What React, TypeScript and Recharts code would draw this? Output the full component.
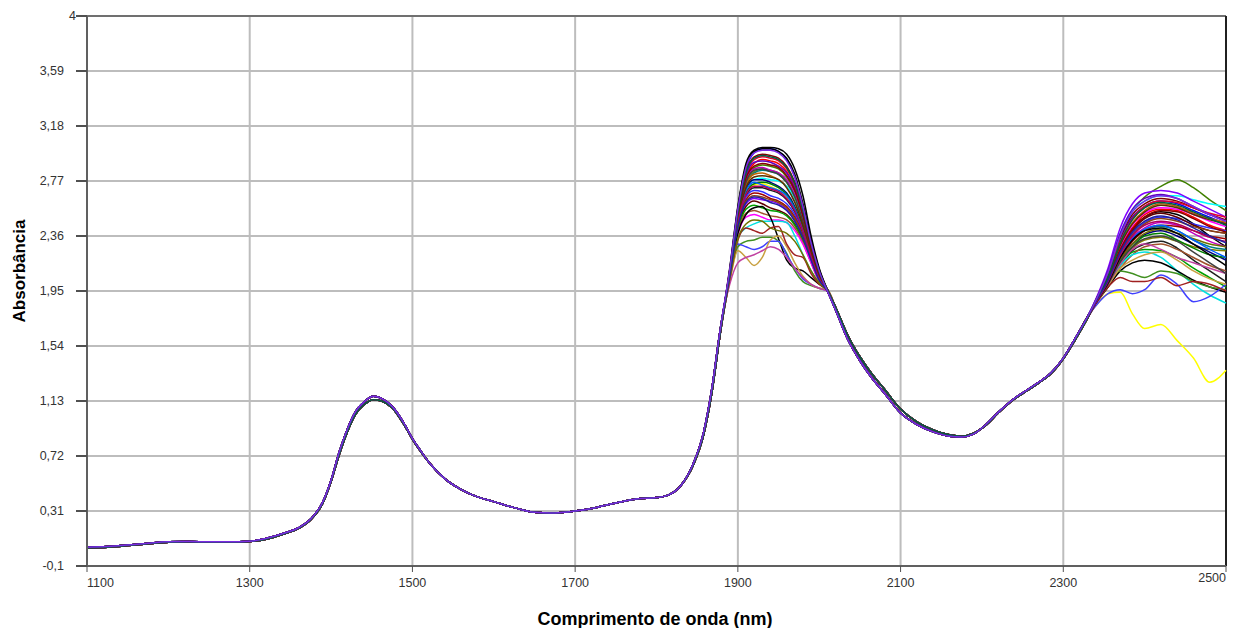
import { LineChart, Line, XAxis, YAxis, CartesianGrid, ReferenceLine } from "recharts";

// wavelength grids (nm)
const leftNm = [1100, 1125, 1150, 1175, 1200, 1225, 1250, 1275, 1300, 1320, 1340, 1360, 1375, 1390, 1400, 1410, 1420, 1430, 1440, 1452, 1462, 1475, 1490, 1500, 1510, 1522, 1540, 1560, 1580, 1600, 1625, 1650, 1670, 1700, 1725, 1750, 1775, 1800, 1815, 1830, 1845, 1858, 1868, 1878];
const peakNm = [1890, 1900, 1910, 1920, 1930, 1940, 1950, 1960, 1970, 1980, 1990, 2000];
const midNm = [2010, 2020, 2035, 2050, 2065, 2080, 2100, 2120, 2140, 2160, 2175, 2190, 2205, 2220, 2240, 2255, 2270, 2285, 2300, 2315, 2330];
const tailNm = [2340, 2355, 2370, 2385, 2400, 2420, 2440, 2460, 2480, 2500];

// shared parts of the spectra (two slightly different bundles)
const baseLeftA = [0.04, 0.045, 0.056, 0.07, 0.08, 0.082, 0.08, 0.08, 0.085, 0.105, 0.14, 0.185, 0.25, 0.38, 0.54, 0.75, 0.92, 1.05, 1.12, 1.165, 1.15, 1.09, 0.96, 0.85, 0.76, 0.66, 0.55, 0.47, 0.415, 0.38, 0.335, 0.3, 0.295, 0.31, 0.335, 0.37, 0.4, 0.41, 0.43, 0.5, 0.66, 0.9, 1.22, 1.65];
const baseLeftB = [0.035, 0.04, 0.052, 0.066, 0.077, 0.08, 0.078, 0.079, 0.083, 0.1, 0.135, 0.18, 0.245, 0.37, 0.53, 0.73, 0.9, 1.03, 1.1, 1.14, 1.13, 1.08, 0.95, 0.845, 0.755, 0.66, 0.55, 0.47, 0.415, 0.38, 0.335, 0.3, 0.295, 0.31, 0.335, 0.37, 0.4, 0.41, 0.43, 0.5, 0.65, 0.88, 1.19, 1.62];
const baseMidA = [1.95, 1.81, 1.59, 1.43, 1.3, 1.19, 1.04, 0.955, 0.9, 0.868, 0.862, 0.885, 0.955, 1.045, 1.15, 1.21, 1.27, 1.34, 1.45, 1.6, 1.76];
const baseMidB = [1.96, 1.83, 1.62, 1.46, 1.33, 1.22, 1.07, 0.975, 0.915, 0.878, 0.868, 0.89, 0.95, 1.04, 1.145, 1.205, 1.265, 1.335, 1.445, 1.59, 1.75];

const colors = ["#ffff00", "#000000", "#0000ff", "#800000", "#408000", "#ff0000", "#808000", "#c000c0", "#008080", "#c06000", "#00ffff", "#000080", "#008000", "#202020", "#3030ff", "#a00000", "#8000ff", "#600000", "#00a000", "#a0522d", "#ff00ff", "#00e0e0", "#000000", "#409020", "#4040ff", "#c8a040", "#c040a0", "#a02020", "#707000", "#e00030", "#6000c0", "#0060ff", "#404040", "#8b4513", "#8b0000", "#000000", "#5a3000", "#b00060", "#2020a0", "#006040", "#7a2be2"];

// per-sample water band around 1930 nm
const peakValues = [
  [2.07, 2.46, 2.68, 2.74, 2.75, 2.73, 2.7, 2.65, 2.55, 2.4, 2.21, 2.05],
  [2.12, 2.58, 2.9, 3.0, 3.02, 3.02, 3.01, 2.97, 2.86, 2.66, 2.36, 2.12],
  [2.1, 2.55, 2.86, 2.98, 3.01, 3.01, 2.99, 2.93, 2.8, 2.58, 2.32, 2.1],
  [2.1, 2.54, 2.84, 2.95, 2.97, 2.96, 2.94, 2.88, 2.76, 2.56, 2.3, 2.09],
  [2.08, 2.5, 2.77, 2.87, 2.89, 2.88, 2.86, 2.8, 2.69, 2.5, 2.27, 2.07],
  [2.09, 2.52, 2.8, 2.9, 2.93, 2.92, 2.9, 2.84, 2.72, 2.52, 2.28, 2.08],
  [2.08, 2.49, 2.75, 2.84, 2.86, 2.85, 2.83, 2.77, 2.66, 2.48, 2.26, 2.06],
  [2.09, 2.51, 2.78, 2.86, 2.87, 2.85, 2.83, 2.78, 2.67, 2.49, 2.26, 2.07],
  [2.08, 2.49, 2.74, 2.83, 2.85, 2.84, 2.82, 2.76, 2.65, 2.47, 2.25, 2.06],
  [2.08, 2.49, 2.74, 2.82, 2.83, 2.81, 2.78, 2.73, 2.62, 2.45, 2.24, 2.06],
  [2.07, 2.47, 2.7, 2.78, 2.79, 2.78, 2.77, 2.73, 2.64, 2.48, 2.27, 2.07],
  [2.08, 2.48, 2.71, 2.78, 2.78, 2.76, 2.73, 2.68, 2.58, 2.42, 2.22, 2.05],
  [2.07, 2.46, 2.68, 2.75, 2.76, 2.75, 2.72, 2.67, 2.57, 2.41, 2.22, 2.05],
  [2.07, 2.45, 2.66, 2.72, 2.72, 2.7, 2.68, 2.63, 2.54, 2.39, 2.21, 2.04],
  [2.07, 2.45, 2.65, 2.7, 2.69, 2.66, 2.64, 2.6, 2.52, 2.38, 2.2, 2.04],
  [2.06, 2.43, 2.63, 2.68, 2.67, 2.64, 2.62, 2.58, 2.5, 2.37, 2.19, 2.04],
  [2.06, 2.42, 2.6, 2.64, 2.63, 2.62, 2.6, 2.56, 2.48, 2.35, 2.18, 2.03],
  [2.06, 2.41, 2.58, 2.62, 2.6, 2.57, 2.55, 2.52, 2.45, 2.33, 2.17, 2.03],
  [2.05, 2.4, 2.56, 2.59, 2.57, 2.55, 2.54, 2.51, 2.44, 2.32, 2.17, 2.03],
  [2.05, 2.38, 2.53, 2.55, 2.53, 2.51, 2.5, 2.48, 2.42, 2.31, 2.16, 2.02],
  [2.05, 2.37, 2.5, 2.52, 2.5, 2.48, 2.48, 2.46, 2.4, 2.3, 2.16, 2.02],
  [2.04, 2.35, 2.42, 2.45, 2.47, 2.47, 2.47, 2.46, 2.36, 2.22, 2.1, 2.01],
  [2.05, 2.38, 2.52, 2.57, 2.58, 2.5, 2.34, 2.18, 2.12, 2.1, 2.05, 2.0],
  [2.03, 2.28, 2.32, 2.33, 2.35, 2.35, 2.32, 2.23, 2.1, 2.02, 1.99, 1.97],
  [2.03, 2.3, 2.28, 2.26, 2.28, 2.32, 2.32, 2.22, 2.12, 2.04, 2.0, 1.97],
  [2.02, 2.25, 2.2, 2.14, 2.2, 2.33, 2.36, 2.28, 2.16, 2.06, 2.0, 1.97],
  [2.0, 2.16, 2.2, 2.22, 2.25, 2.28, 2.26, 2.2, 2.12, 2.05, 2.0, 1.97],
  [2.04, 2.33, 2.42, 2.4, 2.38, 2.42, 2.43, 2.3, 2.22, 2.2, 2.08, 2.0],
  [2.04, 2.34, 2.45, 2.48, 2.47, 2.42, 2.4, 2.38, 2.32, 2.22, 2.1, 2.01],
  [2.1, 2.53, 2.82, 2.93, 2.95, 2.94, 2.92, 2.86, 2.74, 2.54, 2.29, 2.08],
  [2.09, 2.52, 2.81, 2.91, 2.92, 2.91, 2.88, 2.83, 2.71, 2.51, 2.28, 2.08],
  [2.07, 2.47, 2.7, 2.76, 2.74, 2.72, 2.7, 2.66, 2.56, 2.4, 2.21, 2.04],
  [2.08, 2.5, 2.76, 2.85, 2.86, 2.84, 2.82, 2.76, 2.65, 2.47, 2.25, 2.06],
  [2.06, 2.44, 2.62, 2.66, 2.65, 2.63, 2.61, 2.57, 2.49, 2.36, 2.19, 2.03],
  [2.09, 2.51, 2.79, 2.88, 2.9, 2.89, 2.87, 2.81, 2.7, 2.51, 2.27, 2.07],
  [2.11, 2.57, 2.88, 2.99, 3.01, 3.01, 2.99, 2.94, 2.82, 2.6, 2.33, 2.11],
  [2.08, 2.48, 2.72, 2.8, 2.81, 2.8, 2.78, 2.72, 2.61, 2.44, 2.23, 2.05],
  [2.07, 2.46, 2.67, 2.73, 2.73, 2.71, 2.69, 2.64, 2.55, 2.4, 2.21, 2.04],
  [2.06, 2.43, 2.61, 2.65, 2.64, 2.61, 2.59, 2.55, 2.47, 2.35, 2.18, 2.03],
  [2.09, 2.53, 2.83, 2.94, 2.96, 2.95, 2.93, 2.87, 2.75, 2.55, 2.3, 2.09],
  [2.11, 2.56, 2.87, 2.98, 3.0, 3.0, 2.98, 2.92, 2.8, 2.58, 2.31, 2.1],
];

// per-sample end of the spectrum (2340-2500 nm)
const tailValues = [
  [1.84, 1.93, 1.94, 1.78, 1.67, 1.7, 1.58, 1.45, 1.27, 1.36],
  [1.87, 2.05, 2.28, 2.42, 2.5, 2.54, 2.52, 2.45, 2.36, 2.28],
  [1.88, 2.08, 2.34, 2.5, 2.58, 2.62, 2.6, 2.55, 2.5, 2.45],
  [1.88, 2.08, 2.35, 2.52, 2.6, 2.64, 2.62, 2.57, 2.52, 2.48],
  [1.88, 2.08, 2.36, 2.55, 2.65, 2.73, 2.78, 2.72, 2.63, 2.55],
  [1.87, 2.05, 2.27, 2.42, 2.52, 2.56, 2.55, 2.5, 2.44, 2.4],
  [1.86, 2.0, 2.16, 2.27, 2.33, 2.35, 2.32, 2.28, 2.26, 2.25],
  [1.87, 2.03, 2.22, 2.35, 2.42, 2.46, 2.44, 2.38, 2.32, 2.28],
  [1.86, 2.02, 2.2, 2.33, 2.4, 2.43, 2.4, 2.33, 2.28, 2.26],
  [1.87, 2.06, 2.3, 2.46, 2.55, 2.6, 2.58, 2.53, 2.49, 2.46],
  [1.88, 2.09, 2.38, 2.55, 2.62, 2.66, 2.66, 2.63, 2.6, 2.58],
  [1.86, 2.01, 2.18, 2.3, 2.37, 2.4, 2.36, 2.3, 2.24, 2.18],
  [1.86, 2.0, 2.16, 2.28, 2.36, 2.38, 2.33, 2.27, 2.22, 2.2],
  [1.86, 1.99, 2.14, 2.25, 2.3, 2.32, 2.27, 2.18, 2.1, 2.02],
  [1.87, 2.04, 2.24, 2.38, 2.46, 2.5, 2.49, 2.45, 2.42, 2.4],
  [1.86, 2.01, 2.19, 2.32, 2.4, 2.44, 2.43, 2.4, 2.36, 2.34],
  [1.89, 2.12, 2.42, 2.6, 2.68, 2.7, 2.68, 2.62, 2.56, 2.5],
  [1.87, 2.04, 2.25, 2.4, 2.49, 2.53, 2.5, 2.44, 2.4, 2.38],
  [1.86, 2.0, 2.15, 2.24, 2.26, 2.25, 2.2, 2.12, 2.05, 1.98],
  [1.85, 1.98, 2.12, 2.22, 2.28, 2.3, 2.26, 2.2, 2.14, 2.1],
  [1.87, 2.05, 2.28, 2.44, 2.53, 2.57, 2.56, 2.52, 2.47, 2.43],
  [1.86, 2.0, 2.14, 2.22, 2.24, 2.2, 2.1, 2.0, 1.92, 1.86],
  [1.86, 1.98, 2.1, 2.16, 2.18, 2.16, 2.1, 2.03, 1.98, 1.94],
  [1.87, 2.02, 2.1, 2.08, 2.05, 2.1, 2.08, 2.02, 1.98, 1.96],
  [1.84, 1.93, 1.96, 1.93, 1.96, 2.07, 2.0, 1.87, 1.91, 2.0],
  [1.86, 1.99, 2.12, 2.18, 2.22, 2.24, 2.18, 2.1, 2.04, 2.0],
  [1.86, 2.0, 2.15, 2.26, 2.3, 2.26, 2.2, 2.16, 2.12, 2.08],
  [1.86, 1.98, 2.05, 2.02, 2.02, 2.05, 1.99, 2.02, 2.0, 1.95],
  [1.86, 2.01, 2.18, 2.3, 2.38, 2.41, 2.38, 2.34, 2.3, 2.28],
  [1.88, 2.07, 2.32, 2.49, 2.58, 2.62, 2.61, 2.57, 2.53, 2.5],
  [1.88, 2.1, 2.38, 2.56, 2.64, 2.67, 2.64, 2.58, 2.52, 2.47],
  [1.86, 2.02, 2.21, 2.34, 2.41, 2.44, 2.4, 2.33, 2.26, 2.2],
  [1.86, 2.0, 2.17, 2.28, 2.34, 2.36, 2.32, 2.24, 2.16, 2.08],
  [1.87, 2.03, 2.23, 2.37, 2.45, 2.49, 2.47, 2.43, 2.4, 2.38],
  [1.87, 2.04, 2.26, 2.41, 2.5, 2.55, 2.54, 2.49, 2.43, 2.39],
  [1.86, 2.01, 2.2, 2.33, 2.4, 2.42, 2.38, 2.3, 2.22, 2.14],
  [1.87, 2.05, 2.29, 2.45, 2.54, 2.59, 2.57, 2.52, 2.48, 2.45],
  [1.86, 2.02, 2.22, 2.36, 2.44, 2.47, 2.45, 2.4, 2.35, 2.32],
  [1.87, 2.03, 2.24, 2.39, 2.47, 2.51, 2.48, 2.42, 2.36, 2.31],
  [1.88, 2.06, 2.31, 2.48, 2.57, 2.61, 2.59, 2.54, 2.49, 2.44],
  [1.88, 2.09, 2.36, 2.54, 2.62, 2.66, 2.64, 2.58, 2.52, 2.47],
];

const xTicks = [1100, 1300, 1500, 1700, 1900, 2100, 2300, 2500];
const yTicks = [-0.1, 0.31, 0.72, 1.13, 1.54, 1.95, 2.36, 2.77, 3.18, 3.59, 4];

// build the table recharts wants
const rows: Record<string, number>[] = [];
const addPart = (nms: number[], pick: (s: number, j: number) => number) => {
  nms.forEach((nm, j) => {
    const row: Record<string, number> = { nm };
    colors.forEach((_, s) => {
      row["s" + s] = pick(s, j);
    });
    rows.push(row);
  });
};
addPart(leftNm, (s, j) => (s % 2 === 0 ? baseLeftA[j] : baseLeftB[j]));
addPart(peakNm, (s, j) => peakValues[s][j]);
addPart(midNm, (s, j) => (s % 2 === 0 ? baseMidA[j] : baseMidB[j]));
addPart(tailNm, (s, j) => tailValues[s][j]);

const tickFont = "'Liberation Sans', Arial, sans-serif";

const XTick = (props: any) => {
  const { x, y, payload } = props;
  const v = payload.value;
  let anchor = "middle";
  let dy = 0;
  if (v === 1100) anchor = "start";
  if (v === 2500) {
    anchor = "end";
    dy = -5;
  }
  return (
    <text x={x} y={y + dy} dy="0.71em" textAnchor={anchor} fontSize={12.5} fontFamily={tickFont} fill="#333">
      {v}
    </text>
  );
};

const YTick = (props: any) => {
  const { x, y, payload } = props;
  const v = payload.value;
  const dx = v === 4 ? 12 : 0;
  return (
    <text x={x + dx} y={y} dy="0.355em" textAnchor="end" fontSize={12.5} fontFamily={tickFont} fill="#333">
      {String(v).replace(".", ",")}
    </text>
  );
};

const App = () => {
  return (
    <div style={{ position: "absolute", left: 0, top: 0, width: 1238, height: 628, background: "#fff" }}>
      <LineChart width={1238} height={628} data={rows} margin={{ top: 16, right: 12, bottom: 0, left: 0 }}>
        <CartesianGrid stroke="#bdbdbd" strokeWidth={2} />
        <XAxis
          dataKey="nm"
          type="number"
          domain={[1100, 2500]}
          ticks={xTicks}
          height={62}
          tickSize={6}
          tickMargin={6}
          tick={<XTick />}
          axisLine={{ stroke: "#606060", strokeWidth: 2 }}
          tickLine={{ stroke: "#505050" }}
          interval={0}
        />
        <YAxis
          type="number"
          domain={[-0.1, 4]}
          ticks={yTicks}
          width={87}
          tickSize={11}
          tickMargin={12}
          tick={<YTick />}
          axisLine={{ stroke: "#606060", strokeWidth: 2 }}
          tickLine={{ stroke: "#505050", strokeWidth: 2 }}
          interval={0}
        />
        <ReferenceLine y={4} stroke="#707070" strokeWidth={2} />
        <ReferenceLine x={2500} stroke="#202020" strokeWidth={2} />
        {colors.map((c, s) => (
          <Line
            key={s}
            type="monotone"
            dataKey={"s" + s}
            stroke={c}
            strokeWidth={1.5}
            dot={false}
            activeDot={false}
            isAnimationActive={false}
          />
        ))}
      </LineChart>
      <svg width={1238} height={628} style={{ position: "absolute", left: 0, top: 0, pointerEvents: "none" }}>
        <text x={655} y={625} textAnchor="middle" fontSize={18} fontWeight="bold" fontFamily="'Liberation Sans', Arial, sans-serif" fill="#000">
          Comprimento de onda (nm)
        </text>
        <text
          x={25}
          y={271}
          textAnchor="middle"
          fontSize={17}
          fontWeight="bold"
          fontFamily="'Liberation Sans', Arial, sans-serif"
          fill="#000"
          transform="rotate(-90, 25, 271)"
        >
          Absorbância
        </text>
      </svg>
    </div>
  );
};

export default App;
